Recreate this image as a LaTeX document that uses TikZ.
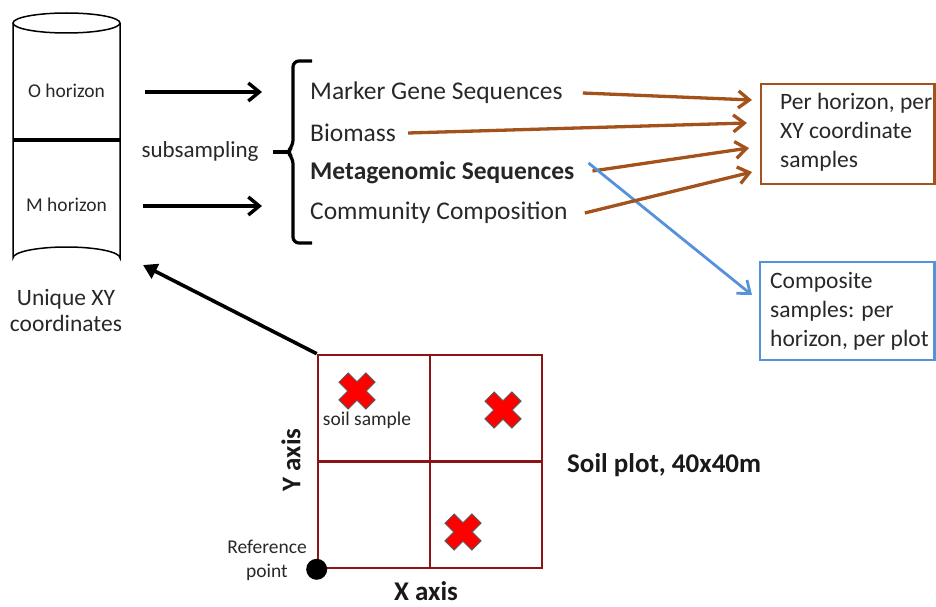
\documentclass[tikz,border=0pt]{standalone}
\usepackage{fontspec}
\setmainfont{Carlito}
\usetikzlibrary{arrows.meta,calc}
\definecolor{brownc}{RGB}{163,82,28}
\definecolor{bluec}{RGB}{86,145,220}
\definecolor{plotred}{RGB}{140,20,22}
\definecolor{txt}{RGB}{40,40,40}
\tikzset{
  blackarrow/.style={line width=3.4pt,-{Straight Barb[length=11pt,width=18pt,line width=3.4pt]}},
  triarrow/.style={line width=3.6pt,-{Triangle[length=14pt,width=16pt]}},
  brownarrow/.style={draw=brownc,line width=3.3pt,-{Straight Barb[length=11pt,width=17pt,line width=3.3pt]}},
  bluearrow/.style={draw=bluec,line width=2.8pt,-{Straight Barb[length=11pt,width=17pt,line width=2.8pt]}},
  lbl/.style={font=\fontsize{25.5}{30}\selectfont,text=txt,inner sep=0pt,anchor=west},
  small/.style={font=\fontsize{19.5}{23}\selectfont,text=txt,inner sep=0pt},
  boldlbl/.style={font=\fontsize{27}{30}\selectfont\bfseries,text=black!90,inner sep=0pt},
  boxtxt/.style={font=\fontsize{23.5}{29}\selectfont,text=txt,align=left,inner sep=0pt,anchor=north west},
  xmark/.pic={\filldraw[fill=red,draw=black!65,line width=0.9pt,rotate=45]
     (6.5,6.5) -- (19,6.5) -- (19,-6.5) -- (6.5,-6.5) -- (6.5,-19) -- (-6.5,-19) -- (-6.5,-6.5) -- (-19,-6.5)
     -- (-19,6.5) -- (-6.5,6.5) -- (-6.5,19) -- (6.5,19) -- cycle;}
}
\begin{document}
\begin{tikzpicture}[x=1pt,y=-1pt]
\useasboundingbox (0,0) rectangle (936,607);
% cylinder
\draw[line width=1.5pt] (13,23) -- (13,258) arc[start angle=180,end angle=360,x radius=53.5,y radius=11] -- (120,23);
\draw[line width=1.5pt] (66.5,23) ellipse[x radius=53.5,y radius=10];
\draw[line width=3.2pt] (13,140) -- (120,140);
\coordinate (cyl) at (143,265);
\node[small] (oh) at (66.5,91) {O horizon};
\node[small] (mh) at (66.5,205) {M horizon};
\node[font=\fontsize{23.5}{26}\selectfont,text=txt,align=center,inner sep=0pt] (uxy) at (66,310) {Unique XY\\coordinates};
% arrows to brace
\coordinate (oa) at (145,92);
\coordinate (ob) at (262,92);
\coordinate (ma) at (143,206);
\coordinate (mb) at (262,206);
\draw[blackarrow] (oa) -- (ob);
\draw[blackarrow] (ma) -- (mb);
\node[font=\fontsize{23}{26}\selectfont,text=txt,inner sep=0pt] (sub) at (200,151) {subsampling};
% bracket
\draw[line width=3.2pt,rounded corners=6pt,line cap=butt] (312,61) -- (293,61) -- (293,146) -- (287,152) -- (293,158) -- (293,243) -- (312,243);
\draw[line width=3.2pt] (273,152) -- (290,152);
% items
\node[lbl] (mg) at (310,93) {Marker Gene Sequences};
\node[lbl] (bm) at (310,133) {Biomass};
\node[lbl,font=\fontsize{25.5}{30}\selectfont\bfseries,text=black!85] (ms) at (310,173) {Metagenomic Sequences};
\node[lbl] (cc) at (310,213) {Community Composition};
% boxes
\draw[brownc,line width=2.4pt] (761,84) rectangle (934.5,184);
\node[boxtxt] (pb) at (780,93) {Per horizon, per\\XY coordinate\\samples};
\draw[bluec,line width=2.4pt] (760,262) rectangle (934.5,360);
\node[boxtxt] (cb) at (770,272) {Composite\\samples: per\\horizon, per plot};
\coordinate (p1) at (752,100);
\coordinate (p2) at (747,123);
\coordinate (p3) at (749,148);
\coordinate (p4) at (752,172);
\coordinate (c1) at (752,295);
\draw[brownarrow] ([xshift=20pt]mg.east) -- (p1);
\draw[brownarrow] ([xshift=12pt]bm.east) -- (p2);
\draw[brownarrow] ([xshift=18pt,yshift=2pt]ms.east) -- (p3);
\draw[bluearrow] ([xshift=14pt,yshift=10pt]ms.east) -- (c1);
\draw[brownarrow] ([xshift=17pt]cc.east) -- (p4);
% plot
\node[draw=plotred,line width=2.6pt,minimum width=224pt,minimum height=213pt,inner sep=0pt] (plot) at (430,461.5) {};
\draw[plotred,line width=2.2pt] (plot.north) -- (plot.south);
\draw[plotred,line width=2.2pt] (plot.west) -- (plot.east);
\draw[triarrow] (plot.north west) -- (cyl);
\pic at (357,391) {xmark};
\pic at (503,410) {xmark};
\pic at (463,532) {xmark};
\node[small] (ss) at (367,420) {soil sample};
\node[boldlbl,rotate=90] (ya) at (291,460) {Y axis};
\node[boldlbl] (xa) at (426,591) {X axis};
\node[boldlbl,anchor=west] (sp) at (567,465) {Soil plot, 40x40m};
\node[small,align=center,font=\fontsize{19.5}{24}\selectfont] (rp) at (267,560) {Reference\\point};
\fill (plot.south west) circle[radius=10.5pt];
\end{tikzpicture}
\end{document}
